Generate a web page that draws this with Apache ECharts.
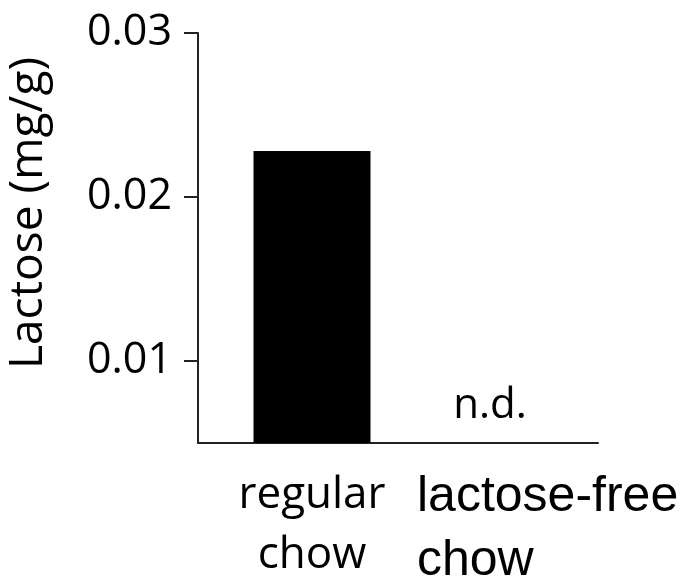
<!DOCTYPE html>
<html>
<head>
<meta charset="utf-8">
<script src="https://cdn.jsdelivr.net/npm/echarts@6/dist/echarts.min.js"></script>
<style>
html,body{margin:0;padding:0;background:#fff;}
#chart{width:680px;height:576px;}
</style>
</head>
<body>
<div id="chart"></div>
<script>
// ---- data ----
const categories = ['regular chow', 'lactose-free chow'];
const lactose = [0.0228, null];          // mg/g ; lactose-free = not detected
const notDetected = ['', 'n.d.'];
const yTicks = [0.01, 0.02, 0.03];
const yMin = 0.005;
const yMax = 0.03;

const chart = echarts.init(document.getElementById('chart'), null, {renderer: 'canvas'});

const axisColor = '#222';
const mainFont = '"Open Sans", sans-serif';

const option = {
  animation: false,
  backgroundColor: '#fff',
  grid: [
    {left: 198, top: 33, width: 456, height: 410, outerBoundsMode: 'none', containLabel: false},
    {left: 198, top: 33, width: 400, height: 410, outerBoundsMode: 'none', containLabel: false}
  ],
  xAxis: [
    {
      type: 'category',
      gridIndex: 0,
      data: categories,
      axisLine: {show: false},
      axisTick: {show: false},
      axisLabel: {
        margin: 22,
        interval: 0,
        formatter: function (v, i) {
          if (i === 0) return '{a|regular}\n{a|chow}';
          return '{b|lactose-free}\n{b|chow}';
        },
        rich: {
          a: {fontFamily: mainFont, fontSize: 44, lineHeight: 60, color: '#000', align: 'center', fontWeight: 500},
          b: {fontFamily: '"Liberation Sans", Arial, sans-serif', fontSize: 50, lineHeight: 64,
              color: '#000', width: 262, align: 'left', padding: [0, 0, 0, 16]}
        }
      }
    },
    {
      type: 'value',
      gridIndex: 1,
      min: 0, max: 1,
      axisLine: {show: true, onZero: false, lineStyle: {color: axisColor, width: 2}},
      axisTick: {show: false},
      axisLabel: {show: false},
      splitLine: {show: false}
    }
  ],
  yAxis: [
    {
      type: 'value',
      gridIndex: 0,
      min: yMin,
      max: yMax,
      name: 'Lactose (mg/g)',
      nameLocation: 'middle',
      nameRotate: 90,
      nameGap: 146,
      nameTextStyle: {fontFamily: mainFont, fontSize: 46, color: '#000', fontWeight: 500, padding: [0, 0, 0, 50]},
      axisLine: {show: true, lineStyle: {color: axisColor, width: 2}},
      axisTick: {show: true, length: 14, lineStyle: {color: axisColor, width: 2}, customValues: yTicks},
      axisLabel: {
        margin: 26,
        fontFamily: mainFont, fontSize: 43, color: '#000', fontWeight: 500,
        customValues: yTicks,
        formatter: v => v.toFixed(2)
      },
      splitLine: {show: false}
    },
    {type: 'value', gridIndex: 1, show: false, min: 0, max: 1}
  ],
  series: [
    {
      type: 'bar',
      xAxisIndex: 0,
      yAxisIndex: 0,
      data: lactose,
      barWidth: 117,
      itemStyle: {color: '#000'},
      markPoint: {
        symbol: 'circle',
        symbolSize: 0,
        data: [{
          coord: [categories[1], yMin],
          label: {
            show: true,
            formatter: notDetected[1],
            fontFamily: mainFont, fontSize: 42, color: '#000', fontWeight: 500,
            offset: [-50, -37]
          }
        }]
      }
    }
  ]
};
chart.setOption(option);
</script>
</body>
</html>
